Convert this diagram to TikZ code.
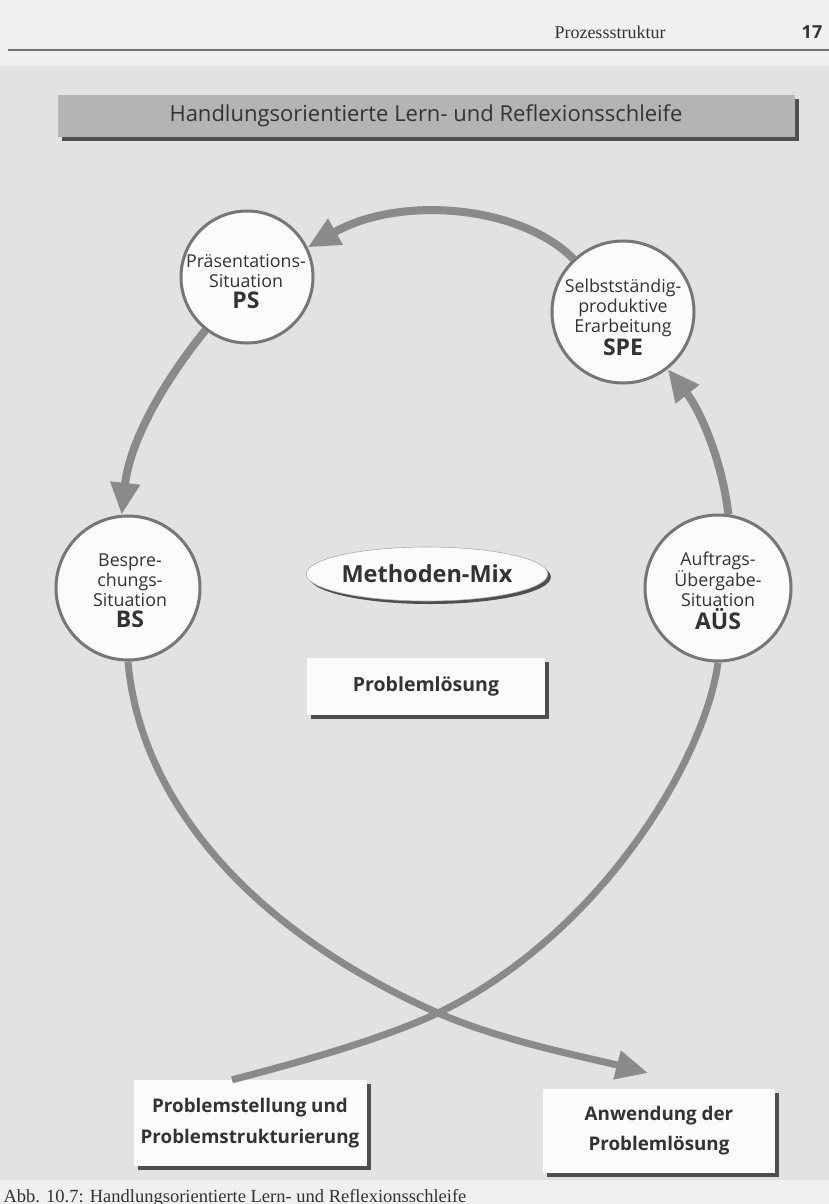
\documentclass[tikz,border=0pt]{standalone}
\usepackage{fontspec}
\setmainfont{Open Sans}
\newfontfamily\serifhd{Liberation Serif}
\usetikzlibrary{arrows.meta,shapes.geometric,shadows}
\definecolor{pagebg}{HTML}{F0F0F0}
\definecolor{panel}{HTML}{E2E2E2}
\definecolor{arrowgray}{HTML}{8A8A8A}
\definecolor{ringgray}{HTML}{767676}
\definecolor{txt}{HTML}{333333}
\definecolor{titlefill}{HTML}{B4B4B4}
\definecolor{shadowgray}{HTML}{4E4E4E}
\definecolor{boxfill}{HTML}{FBFBFB}
\newcommand{\abbrfont}{\fontsize{23}{24}\selectfont\bfseries}
\tikzset{
  bubble/.style={circle, draw=ringgray, line width=3pt, fill=boxfill, inner sep=0pt},
  bubtext/.style={align=center, text=txt, font=\fontsize{17.8}{20}\selectfont, inner sep=0pt},
  shbox/.style={rectangle, fill=boxfill, inner sep=0pt, text=txt, align=center,
    general shadow={fill=shadowgray, shadow xshift=4pt, shadow yshift=-4pt}},
  arr/.style={draw=arrowgray, line width=8pt, -{Triangle[length=32pt,width=28pt]}},
  looparr/.style={draw=arrowgray, line width=7pt, -{Triangle[length=32pt,width=28pt]}},
  loopline/.style={draw=arrowgray, line width=7pt},
}
\begin{document}
\begin{tikzpicture}[x=1pt,y=-1pt]
\useasboundingbox (0,0) rectangle (829,1204);
\fill[pagebg] (0,0) rectangle (829,1204);
\fill[panel] (0,66) rectangle (829,1180);
% header
\draw[line width=1.2pt, color=shadowgray!80] (8,50) -- (829,50);
\node[anchor=base, text=txt, font=\serifhd\fontsize{18}{18}\selectfont] (hdr) at (610,39) {Prozessstruktur};
\node[anchor=base, text=txt, font=\fontsize{18}{18}\selectfont\bfseries] (pg) at (812,39) {17};
% title
\node[shbox, fill=titlefill, minimum width=737pt, minimum height=42pt,
  font=\fontsize{22}{24}\selectfont] (title) at (426,116) {Handlungsorientierte Lern- und Reflexionsschleife};
% circles
\node[bubble, minimum size=132pt] (PS) at (247,277) {};
\node[bubtext] (PSt) at (246,282) {Präsentations-\\Situation\\[1pt]{\abbrfont PS}};
\node[bubble, minimum size=142pt] (SPE) at (623,312) {};
\node[bubtext] (SPEt) at (623,317) {Selbstständig-\\produktive\\Erarbeitung\\[1pt]{\abbrfont SPE}};
\node[bubble, minimum size=144pt] (BS) at (128,588) {};
\node[bubtext] (BSt) at (130,591) {Bespre-\\chungs-\\Situation\\[1pt]{\abbrfont BS}};
\node[bubble, minimum size=146pt] (AUS) at (718,588) {};
\node[bubtext] (AUSt) at (718,591) {Auftrags-\\Übergabe-\\Situation\\[1pt]{\abbrfont AÜS}};
% centre elements
\node[ellipse, fill=boxfill, draw=ringgray!60, line width=0.6pt, minimum width=238pt, minimum height=54pt,
  inner sep=0pt, text=txt, font=\fontsize{23.5}{26}\selectfont\bfseries,
  general shadow={fill=shadowgray, shadow xshift=3pt, shadow yshift=-3pt}] (MM) at (427,574) {Methoden-Mix};
\node[shbox, minimum width=238pt, minimum height=57pt, font=\fontsize{19.5}{22}\selectfont\bfseries] (PL) at (426,686) {Problemlösung};
% bottom boxes
\node[shbox, minimum width=233pt, minimum height=86pt, font=\fontsize{18.8}{31}\selectfont\bfseries] (PSS) at (250,1123) {Problemstellung und\\Problemstrukturierung};
\node[shbox, minimum width=232pt, minimum height=84pt, font=\fontsize{18.8}{30}\selectfont\bfseries] (ANW) at (659,1131) {Anwendung der\\Problemlösung};
% caption
\node[anchor=base west, text=txt, font=\serifhd\fontsize{18.5}{18.5}\selectfont] (cap) at (0,1202) {Abb. 10.7: Handlungsorientierte Lern- und Reflexionsschleife};
% connectors
\coordinate (X) at (438,1013);
\coordinate (tipA) at (648,1073);
\draw[arr] (SPE.133) .. controls (520,205) and (400,195) .. (PS.26);
\draw[arr] (PS.232) .. controls (165,380) and (130,440) .. (BS.95);
\draw[arr] (AUS.82) .. controls (722,460) and (700,410) .. (SPE.-52);
\draw[loopline] ([xshift=-18pt]PSS.north) .. controls (300,1062) and (380,1040) .. (X)
   .. controls (600,935) and (705,760) .. (AUS.270);
\draw[looparr] (BS.270) .. controls (140,800) and (250,930) .. (X)
   .. controls (505,1042) and (590,1058) .. (tipA);
\end{tikzpicture}
\end{document}
